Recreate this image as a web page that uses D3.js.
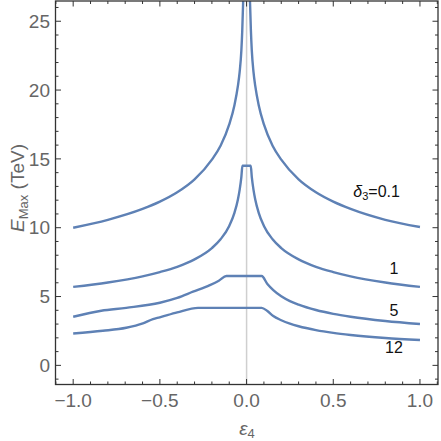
<!DOCTYPE html>
<html><head><meta charset="utf-8">
<script src="https://cdnjs.cloudflare.com/ajax/libs/d3/7.8.5/d3.min.js"></script>
<style>body{margin:0;background:#fff}svg{display:block}</style>
</head><body>
<svg id="c" width="441" height="441"></svg>
<script>
// ---- data ----
const d01_eps = [-1,-0.8,-0.6,-0.5,-0.4,-0.3,-0.2,-0.15,-0.1,-0.07,-0.05,-0.04,-0.03,-0.025,-0.02,-0.017,
                 0.017,0.02,0.025,0.03,0.04,0.05,0.07,0.1,0.15,0.2,0.3,0.4,0.5,0.6,0.8,1];
const d01_E   = [10.0,10.57,11.36,11.89,12.57,13.51,14.95,15.95,17.5,18.9,20.3,21.3,22.9,24.3,26.3,28.0,
                 28.0,26.3,24.3,22.9,21.3,20.3,18.9,17.5,15.95,14.95,13.51,12.57,11.89,11.36,10.57,10.05];
const d1_eps  = [-1,-0.8,-0.6,-0.5,-0.4,-0.3,-0.2,-0.15,-0.1,-0.07,-0.05,-0.04,-0.03,-0.024,
                 0.024,0.03,0.04,0.05,0.07,0.1,0.15,0.2,0.3,0.4,0.5,0.6,0.8,1];
const d1_E    = [5.7,6.02,6.47,6.78,7.16,7.70,8.52,9.16,10.13,11.08,12.05,12.75,13.70,14.5,
                 14.5,13.70,12.75,12.05,11.08,10.13,9.16,8.52,7.70,7.16,6.78,6.47,6.02,5.7];
const d5_eps  = [-1,-0.838,-0.694,-0.5,-0.4,-0.309,-0.212,-0.16,-0.116,
                 0.087,0.12,0.154,0.2,0.25,0.3,0.4,0.5,0.6,0.8,1];
const d5_E    = [3.53,3.97,4.18,4.55,4.9,5.35,5.83,6.15,6.49,
                 6.49,5.91,5.47,5.02,4.67,4.41,4.02,3.74,3.53,3.22,3.0];
const d12_eps = [-1,-0.829,-0.694,-0.598,-0.54,-0.501,-0.4,-0.28,
                 0.087,0.12,0.154,0.2,0.25,0.3,0.4,0.5,0.6,0.8,1];
const d12_E   = [2.32,2.51,2.73,3.05,3.36,3.49,3.85,4.18,
                 4.18,3.95,3.58,3.28,3.03,2.84,2.56,2.36,2.21,1.99,1.84];
const seriesLabels = ["δ3=0.1","1","5","12"];
const labelPos = [[0.75,12.2],[0.85,6.65],[0.85,3.6],[0.85,0.93]];
const xMajor = [-1.0,-0.5,0.0,0.5,1.0];
const yMajor = [0,5,10,15,20,25];

// ---- layout ----
const L=55.5, R=438, T=1, B=384.5;
const x = d3.scaleLinear().domain([-1.102,1.104]).range([L,R]);
const y = d3.scaleLinear().domain([-1.39,26.47]).range([B,T]);
const svg = d3.select("#c");
const color = "#5E81B5", frameCol="#333", tickLabCol="#666";

svg.append("defs").append("clipPath").attr("id","clip")
  .append("rect").attr("x",L).attr("y",T).attr("width",R-L).attr("height",B-T);

// zero line
svg.append("line").attr("x1",x(0)).attr("x2",x(0)).attr("y1",T).attr("y2",B)
  .attr("stroke","#cfcfcf").attr("stroke-width",1.5);

const line = d3.line().x(d=>x(d[0])).y(d=>y(d[1])).curve(d3.curveMonotoneX);
const series = [[d01_eps,d01_E],[d1_eps,d1_E],[d5_eps,d5_E],[d12_eps,d12_E]];
const g = svg.append("g").attr("clip-path","url(#clip)");
series.forEach(([xs,ys])=>{
  g.append("path").datum(xs.map((v,i)=>[v,ys[i]])).attr("d",line)
   .attr("fill","none").attr("stroke",color).attr("stroke-width",2.4)
   .attr("stroke-linejoin","miter");
});

// frame
svg.append("rect").attr("x",L).attr("y",T).attr("width",R-L).attr("height",B-T)
  .attr("fill","none").attr("stroke",frameCol).attr("stroke-width",1.3);

// ticks
const xMinor = d3.range(-11,12).map(i=>i/10).filter(v=>v>=-1.102&&v<=1.104);
const yMinor = d3.range(-1,27).filter(v=>v>=-1.39&&v<=26.47);
const tk = svg.append("g").attr("stroke",frameCol).attr("stroke-width",1);
xMinor.forEach(v=>{
  const maj = Math.abs(v*2-Math.round(v*2))<1e-6; const len = maj?5.5:3;
  tk.append("line").attr("x1",x(v)).attr("x2",x(v)).attr("y1",B).attr("y2",B-len);
  tk.append("line").attr("x1",x(v)).attr("x2",x(v)).attr("y1",T).attr("y2",T+len);
});
yMinor.forEach(v=>{
  const maj = v%5===0; const len = maj?5.5:3;
  tk.append("line").attr("x1",L).attr("x2",L+len).attr("y1",y(v)).attr("y2",y(v));
  tk.append("line").attr("x1",R).attr("x2",R-len).attr("y1",y(v)).attr("y2",y(v));
});

// tick labels
const font = "'Liberation Sans', Arial, sans-serif";
xMajor.forEach(v=>{
  svg.append("text").attr("x",x(v)).attr("y",407).attr("text-anchor","middle")
    .attr("font-family",font).attr("font-size",19).attr("fill",tickLabCol)
    .text((v<0?"\u2212":"")+Math.abs(v).toFixed(1));
});
yMajor.forEach(v=>{
  svg.append("text").attr("x",50).attr("y",y(v)).attr("dy","0.35em").attr("text-anchor","end")
    .attr("font-family",font).attr("font-size",19).attr("fill",tickLabCol).text(v);
});

// axis titles
const xt = svg.append("text").attr("x",247).attr("y",435).attr("text-anchor","middle")
  .attr("font-family",font).attr("font-size",19).attr("fill",tickLabCol);
xt.append("tspan").attr("font-style","italic").text("ε");
xt.append("tspan").attr("font-size",13).attr("dy",3).text("4");

const yt = svg.append("text").attr("transform","translate(24,188) rotate(-90)")
  .attr("text-anchor","middle").attr("font-family",font).attr("font-size",19).attr("fill",tickLabCol);
yt.append("tspan").attr("font-style","italic").text("E");
yt.append("tspan").attr("font-size",13).attr("dy",4).text("Max");
yt.append("tspan").attr("dy",-4).text(" (TeV)");

// series labels
seriesLabels.forEach((s,i)=>{
  const t = svg.append("text").attr("x",x(labelPos[i][0])).attr("y",y(labelPos[i][1]))
    .attr("text-anchor","middle").attr("font-family",font).attr("font-size",16).attr("fill","#111");
  if(s.startsWith("δ")){
    t.append("tspan").attr("font-style","italic").text("δ");
    t.append("tspan").attr("font-size",11).attr("dy",3).text("3");
    t.append("tspan").attr("dy",-3).text("=0.1");
  } else t.text(s);
});
</script>
</body></html>
